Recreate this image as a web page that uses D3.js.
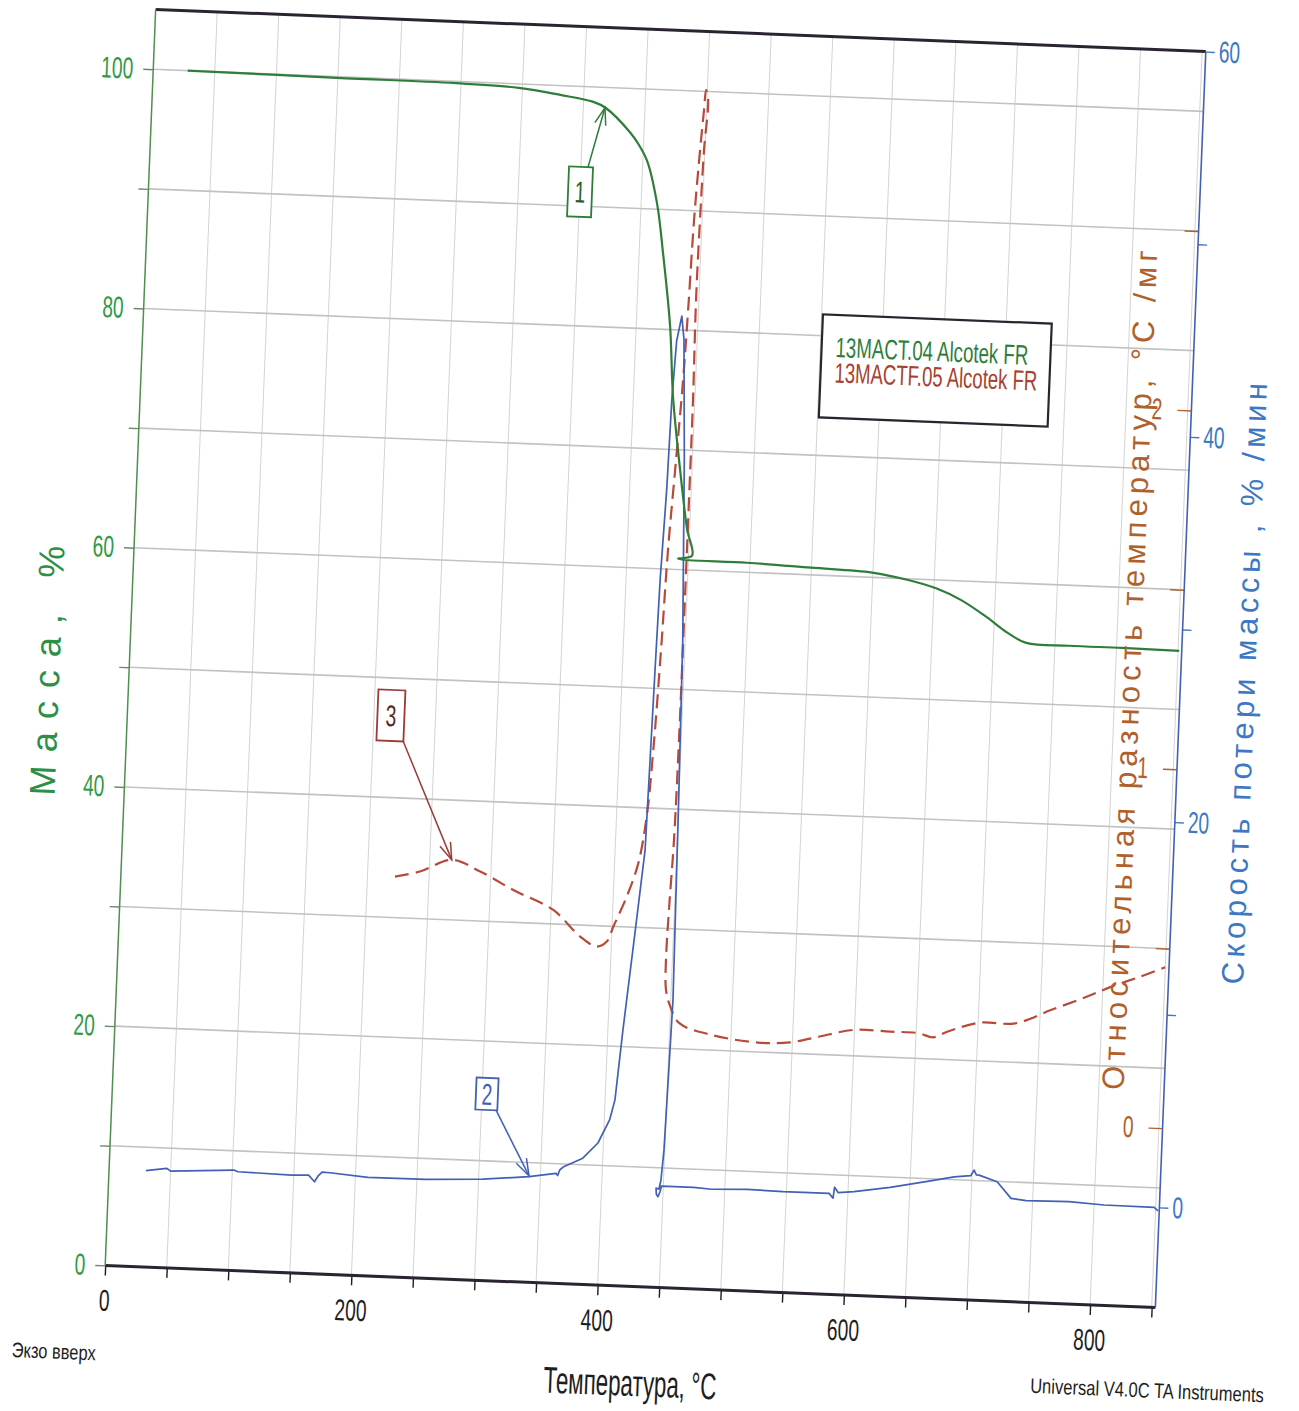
<!DOCTYPE html>
<html lang="ru">
<head>
<meta charset="utf-8">
<title>TGA / DTG / DTA — Alcotek FR</title>
<script src="https://cdn.jsdelivr.net/npm/d3@7/dist/d3.min.js"></script>
<style>
html,body{margin:0;padding:0;background:#fff;}
svg{display:block;}
</style>
</head>
<body>
<svg id="chart" width="1299" height="1411"></svg>
<script>
// ---------------- data ----------------
const tempTicks = [0, 200, 400, 600, 800];
const massTicks = [0, 20, 40, 60, 80, 100];
const rateTicks = [0, 20, 40, 60];
const diffTicks = [0, 1, 2];

// TGA: mass, %  (green)
const massTemp = [28, 145, 246, 297, 331, 358, 368, 389, 396.4, 403.5, 413, 419.5, 427.5, 432.2, 440.2, 447.9, 452.8, 441.5, 497.6, 549.7, 599.4, 628.8, 651.8, 672.5, 693.2, 711.6, 726.6, 761.6, 804.6, 851];
const massPct  = [100.0, 99.9, 99.85, 99.67, 99.22, 98.75, 98.3, 96.3, 95.3, 94.0, 90.45, 86.3, 80.3, 74.4, 68.4, 63.4, 61.2, 60.9, 60.8, 60.6, 60.4, 59.9, 59.3, 58.4, 57.1, 55.8, 55.05, 54.95, 54.95, 54.9];

// DTG: mass loss rate, %/min (blue)
const rateTemp = [29.9, 46.8, 50, 101.2, 104.6, 148.2, 162, 167, 170, 172.8, 179.3, 210.2, 257.1, 303.5, 340.8, 362.6, 364, 365.5, 368.6, 383.8, 395.6, 404.3, 408, 412.2, 418.3, 424.3, 425.4, 426.5, 427.7, 430.1, 431.3, 433.3, 436.7, 439.2, 443.4, 448, 450.1, 451.8, 450.2, 449.4, 447.9, 446.6, 444.2, 444.6, 446, 447.5, 448.5, 474.7, 489.2, 518, 547.3, 584.7, 588, 589, 592, 604.9, 634, 662.8, 685.6, 699, 701.5, 703.5, 705.7, 720.6, 732.4, 744.7, 779.4, 808.1, 848.8, 852];
const rateVal  = [-0.2, -0.04, -0.18, 0.01, -0.07, -0.13, -0.1, -0.43, -0.1, 0.09, 0.07, -0.09, -0.07, 0.06, 0.28, 0.51, 0.4, 0.69, 0.87, 1.35, 2.17, 3.39, 4.44, 8.08, 12.76, 17.45, 22.1, 26.8, 31.5, 36.2, 40.8, 43.9, 45.2, 44.0, 37.75, 28.4, 19.07, 9.74, 4.55, 1.95, 0.38, -0.09, -0.05, -0.35, -0.49, -0.24, 0.07, 0.07, 0.01, 0.08, 0.03, 0.04, -0.2, 0.37, 0.1, 0.18, 0.48, 0.85, 1.16, 1.25, 1.55, 1.3, 1.3, 0.99, 0.16, 0.07, 0.11, 0.01, -0.01, -0.18];

// DTA: relative temperature difference, °C/mg (brown dashed)
const diffTemp = [222.3, 242.4, 267.8, 291.2, 318.7, 351.8, 374.4, 388.2, 396.2, 401, 410.9, 419.2, 424.5, 427.7, 430.7, 433.1, 436.7, 439.8, 441.6, 443.5, 446.1, 448, 449, 451, 449.3, 448.3, 447.7, 448.5, 448.5, 448.4, 448.2, 447.4, 445.6, 444.8, 445.8, 449.6, 457.7, 484.2, 522.1, 548.1, 571.2, 599.9, 628.9, 652.1, 663.9, 675.2, 701, 730, 758.6, 787.1, 807, 829.9, 849.9];
const diffVal  = [0.614, 0.631, 0.667, 0.638, 0.590, 0.539, 0.468, 0.442, 0.457, 0.499, 0.584, 0.678, 0.809, 0.995, 1.274, 1.553, 1.805, 2.028, 2.223, 2.475, 2.67, 2.782, 2.838, 2.81, 2.671, 2.475, 2.252, 1.974, 1.695, 1.361, 1.026, 0.747, 0.552, 0.412, 0.329, 0.285, 0.238, 0.209, 0.193, 0.197, 0.216, 0.239, 0.238, 0.237, 0.227, 0.244, 0.273, 0.275, 0.316, 0.357, 0.388, 0.419, 0.448];

const legendLabels = ["13MACT.04  Alcotek FR", "13MACTF.05  Alcotek FR"];

// numbered call-outs: box centre and arrow (temperature, value on that series' axis)
const notes = [
  {label: "1", axis: "mass", T: 350.1, v: 91.2, fromT: 355.8, fromV: 93.3, toT: 367.6, toV: 98.3},
  {label: "2", axis: "rate", T: 304.0, v: 4.48, fromT: 311.8, fromV: 3.67, toT: 340.8, toV: 0.32},
  {label: "3", axis: "diff", T: 213.8, v: 1.062, fromT: 224.4, fromV: 0.993, toT: 267.8, toV: 0.667}
];

// ---------------- layout / style ----------------
const FONT = "'Liberation Sans', Arial, Helvetica, sans-serif";
const SX = 0.64;                 // horizontal squeeze of the printed lettering
const ROT = 2.3, CX = 655.5, CY = 658.5;   // the scanned sheet is tilted
const L = 130, R = 1181, T = 30, B = 1287;
const C = {
  green: '#2f7d3a', greenText: '#2f9a47',
  blue: '#4360b3', blueText: '#3c78c4',
  brown: '#b84a3a', brownText: '#b0612b',
  grid: '#c2c2c2', gridV: '#d4d4d4', frame: '#2b2430', ink: '#1e1e1e'
};

const x  = d3.scaleLinear().domain([0, 853]).range([L, R]);
const yM = d3.scaleLinear().domain([0, 105]).range([B, T]);
const yR = d3.scaleLinear().domain([-5.2, 60]).range([B, T]);
const yD = d3.scaleLinear().domain([-0.5, 3.0]).range([B, T]);
const yOf = {mass: yM, rate: yR, diff: yD};

const svg = d3.select('#chart');
svg.append('rect').attr('width', 1299).attr('height', 1411).attr('fill', '#fff');
const root = svg.append('g').attr('transform', `rotate(${ROT},${CX},${CY})`);

// grid
root.append('g').selectAll('line').data(d3.range(50, 851, 50)).join('line')
  .attr('x1', d => x(d)).attr('x2', d => x(d)).attr('y1', T).attr('y2', B)
  .attr('stroke', C.gridV).attr('stroke-width', 1);
root.append('g').selectAll('line').data(d3.range(10, 101, 10)).join('line')
  .attr('x1', L).attr('x2', R).attr('y1', d => yM(d)).attr('y2', d => yM(d))
  .attr('stroke', C.grid).attr('stroke-width', 1.6);

// axes
function styleAxis(g, color, size) {
  g.select('.domain').remove();
  g.selectAll('line').attr('stroke', color).attr('stroke-width', 1.4);
  g.selectAll('text').attr('font-size', size).attr('font-family', FONT).attr('fill', color);
}
const gx = root.append('g').attr('transform', `translate(0,${B})`)
  .call(d3.axisBottom(x).tickValues(d3.range(0, 851, 50)).tickSize(10).tickPadding(14)
        .tickFormat(d => tempTicks.includes(d) ? d : ''));
styleAxis(gx, C.ink, 30);
gx.selectAll('text').attr('transform', `scale(${SX},1)`);

const gl = root.append('g').attr('transform', `translate(${L},0)`)
  .call(d3.axisLeft(yM).tickValues(d3.range(0, 101, 10)).tickSize(10).tickPadding(10)
        .tickFormat(d => massTicks.includes(d) ? d : ''));
styleAxis(gl, C.greenText, 30);
gl.selectAll('line').attr('stroke', '#6a8a6a');
gl.selectAll('text').attr('x', -20 / SX).attr('transform', `scale(${SX},1)`);

const gr = root.append('g').attr('transform', `translate(${R},0)`)
  .call(d3.axisRight(yR).tickValues(d3.range(0, 61, 10)).tickSize(9).tickPadding(4)
        .tickFormat(d => rateTicks.includes(d) ? d : ''));
styleAxis(gr, C.blueText, 30);
gr.selectAll('text').attr('x', 13 / SX).attr('transform', `scale(${SX},1)`);

const gd = root.append('g').attr('transform', `translate(${R},0)`)
  .call(d3.axisLeft(yD).tickValues(d3.range(0, 2.6, 0.5)).tickSize(14).tickPadding(14)
        .tickFormat(d => diffTicks.includes(d) ? d : ''));
styleAxis(gd, C.brownText, 30);
gd.selectAll('text').attr('x', -29 / SX).attr('transform', `scale(${SX},1)`);

// frame
root.append('line').attr('x1', L).attr('x2', R).attr('y1', T).attr('y2', T)
  .attr('stroke', C.frame).attr('stroke-width', 3);
root.append('line').attr('x1', L).attr('x2', R).attr('y1', B).attr('y2', B)
  .attr('stroke', C.frame).attr('stroke-width', 3);
root.append('line').attr('x1', L).attr('x2', L).attr('y1', T).attr('y2', B)
  .attr('stroke', '#4f8f4f').attr('stroke-width', 1.5);
root.append('line').attr('x1', R).attr('x2', R).attr('y1', T).attr('y2', B)
  .attr('stroke', C.blue).attr('stroke-width', 1.6);

// series
const curve = d3.curveCatmullRom.alpha(0.5);
root.append('path').datum(d3.zip(diffTemp, diffVal))
  .attr('d', d3.line().x(d => x(d[0])).y(d => yD(d[1])).curve(curve))
  .attr('fill', 'none').attr('stroke', C.brown).attr('stroke-width', 2.2)
  .attr('stroke-dasharray', '14,7');
root.append('path').datum(d3.zip(rateTemp, rateVal))
  .attr('d', d3.line().x(d => x(d[0])).y(d => yR(d[1])).curve(d3.curveLinear))
  .attr('fill', 'none').attr('stroke', C.blue).attr('stroke-width', 1.7)
  .attr('stroke-linejoin', 'round');
root.append('path').datum(d3.zip(massTemp, massPct))
  .attr('d', d3.line().x(d => x(d[0])).y(d => yM(d[1])).curve(curve))
  .attr('fill', 'none').attr('stroke', C.green).attr('stroke-width', 2.2);

// call-outs
const noteStyle = {
  mass: {stroke: C.green, text: '#2e5e2e', w: 24, h: 50},
  rate: {stroke: C.blue, text: C.blue, w: 22, h: 32},
  diff: {stroke: '#9c3a36', text: '#5a2a20', w: 27, h: 51}
};
notes.forEach(n => {
  const s = noteStyle[n.axis], ys = yOf[n.axis];
  const cx = x(n.T), cy = ys(n.v);
  const g = root.append('g');
  g.append('rect').attr('x', cx - s.w / 2).attr('y', cy - s.h / 2).attr('width', s.w).attr('height', s.h)
    .attr('fill', '#fff').attr('stroke', s.stroke).attr('stroke-width', 1.8);
  g.append('text').attr('transform', `translate(${cx},${cy}) scale(${SX},1)`)
    .attr('text-anchor', 'middle').attr('dominant-baseline', 'central')
    .attr('font-family', FONT).attr('font-size', 30).attr('fill', s.text).text(n.label);
  const x1 = x(n.fromT), y1 = ys(n.fromV), x2 = x(n.toT), y2 = ys(n.toV);
  g.append('line').attr('x1', x1).attr('y1', y1).attr('x2', x2).attr('y2', y2)
    .attr('stroke', s.stroke).attr('stroke-width', 1.5);
  const a = Math.atan2(y2 - y1, x2 - x1), len = 18, spread = 0.32;
  const head = [a + Math.PI - spread, a + Math.PI + spread]
    .map(b => [x2 + len * Math.cos(b), y2 + len * Math.sin(b)]);
  g.append('path').attr('d', `M${head[0][0]},${head[0][1]}L${x2},${y2}L${head[1][0]},${head[1][1]}`)
    .attr('fill', 'none').attr('stroke', s.stroke).attr('stroke-width', 1.5);
});

// squeezed horizontal text: natural glyphs scaled to a measured printed width
function squeezedText(parent, txt, cx, cy, size, len, color, anchor) {
  const t = parent.append('text')
    .attr('text-anchor', anchor).attr('dominant-baseline', 'central')
    .attr('font-family', FONT).attr('font-size', size).attr('fill', color).text(txt);
  const w = t.node().getComputedTextLength() || len;
  t.attr('transform', `translate(${cx},${cy}) scale(${len / w},1)`);
  return t;
}

// legend
const lg = root.append('g').attr('transform', `translate(${L + 679},${T + 278})`);
lg.append('rect').attr('width', 229).attr('height', 103).attr('fill', '#fff')
  .attr('stroke', C.frame).attr('stroke-width', 2.2);
const legendColors = [C.green, '#a8402e'];
const legendLen = [193, 203];
legendLabels.forEach((t, i) => {
  squeezedText(lg, t, 14, 32 + i * 26, 28, legendLen[i], legendColors[i], 'start');
});

// titles
function vTitle(txt, cx, cy, size, len, color) {
  root.append('text').attr('transform', `translate(${cx},${cy}) rotate(-90)`)
    .attr('text-anchor', 'middle').attr('dominant-baseline', 'central')
    .attr('font-family', FONT).attr('font-size', size).attr('fill', color)
    .attr('textLength', len).attr('lengthAdjust', 'spacing').text(txt);
}
vTitle('Масса, %', 48, 695, 36, 250, '#2d8f45');
vTitle('Относительная разность температур, °С /мг', 1130, 651, 31, 840, C.brownText);
vTitle('Скорость потери массы , % /мин', 1245, 660, 31, 602, C.blueText);

squeezedText(root, 'Температура, °С', 659, 1383, 37, 173, C.ink, 'middle');
squeezedText(root, 'Экзо вверх', 82, 1375, 21, 84, C.ink, 'middle');
squeezedText(root, 'Universal V4.0C TA Instruments', 1176, 1370, 21, 234, C.ink, 'middle');
</script>
</body>
</html>
